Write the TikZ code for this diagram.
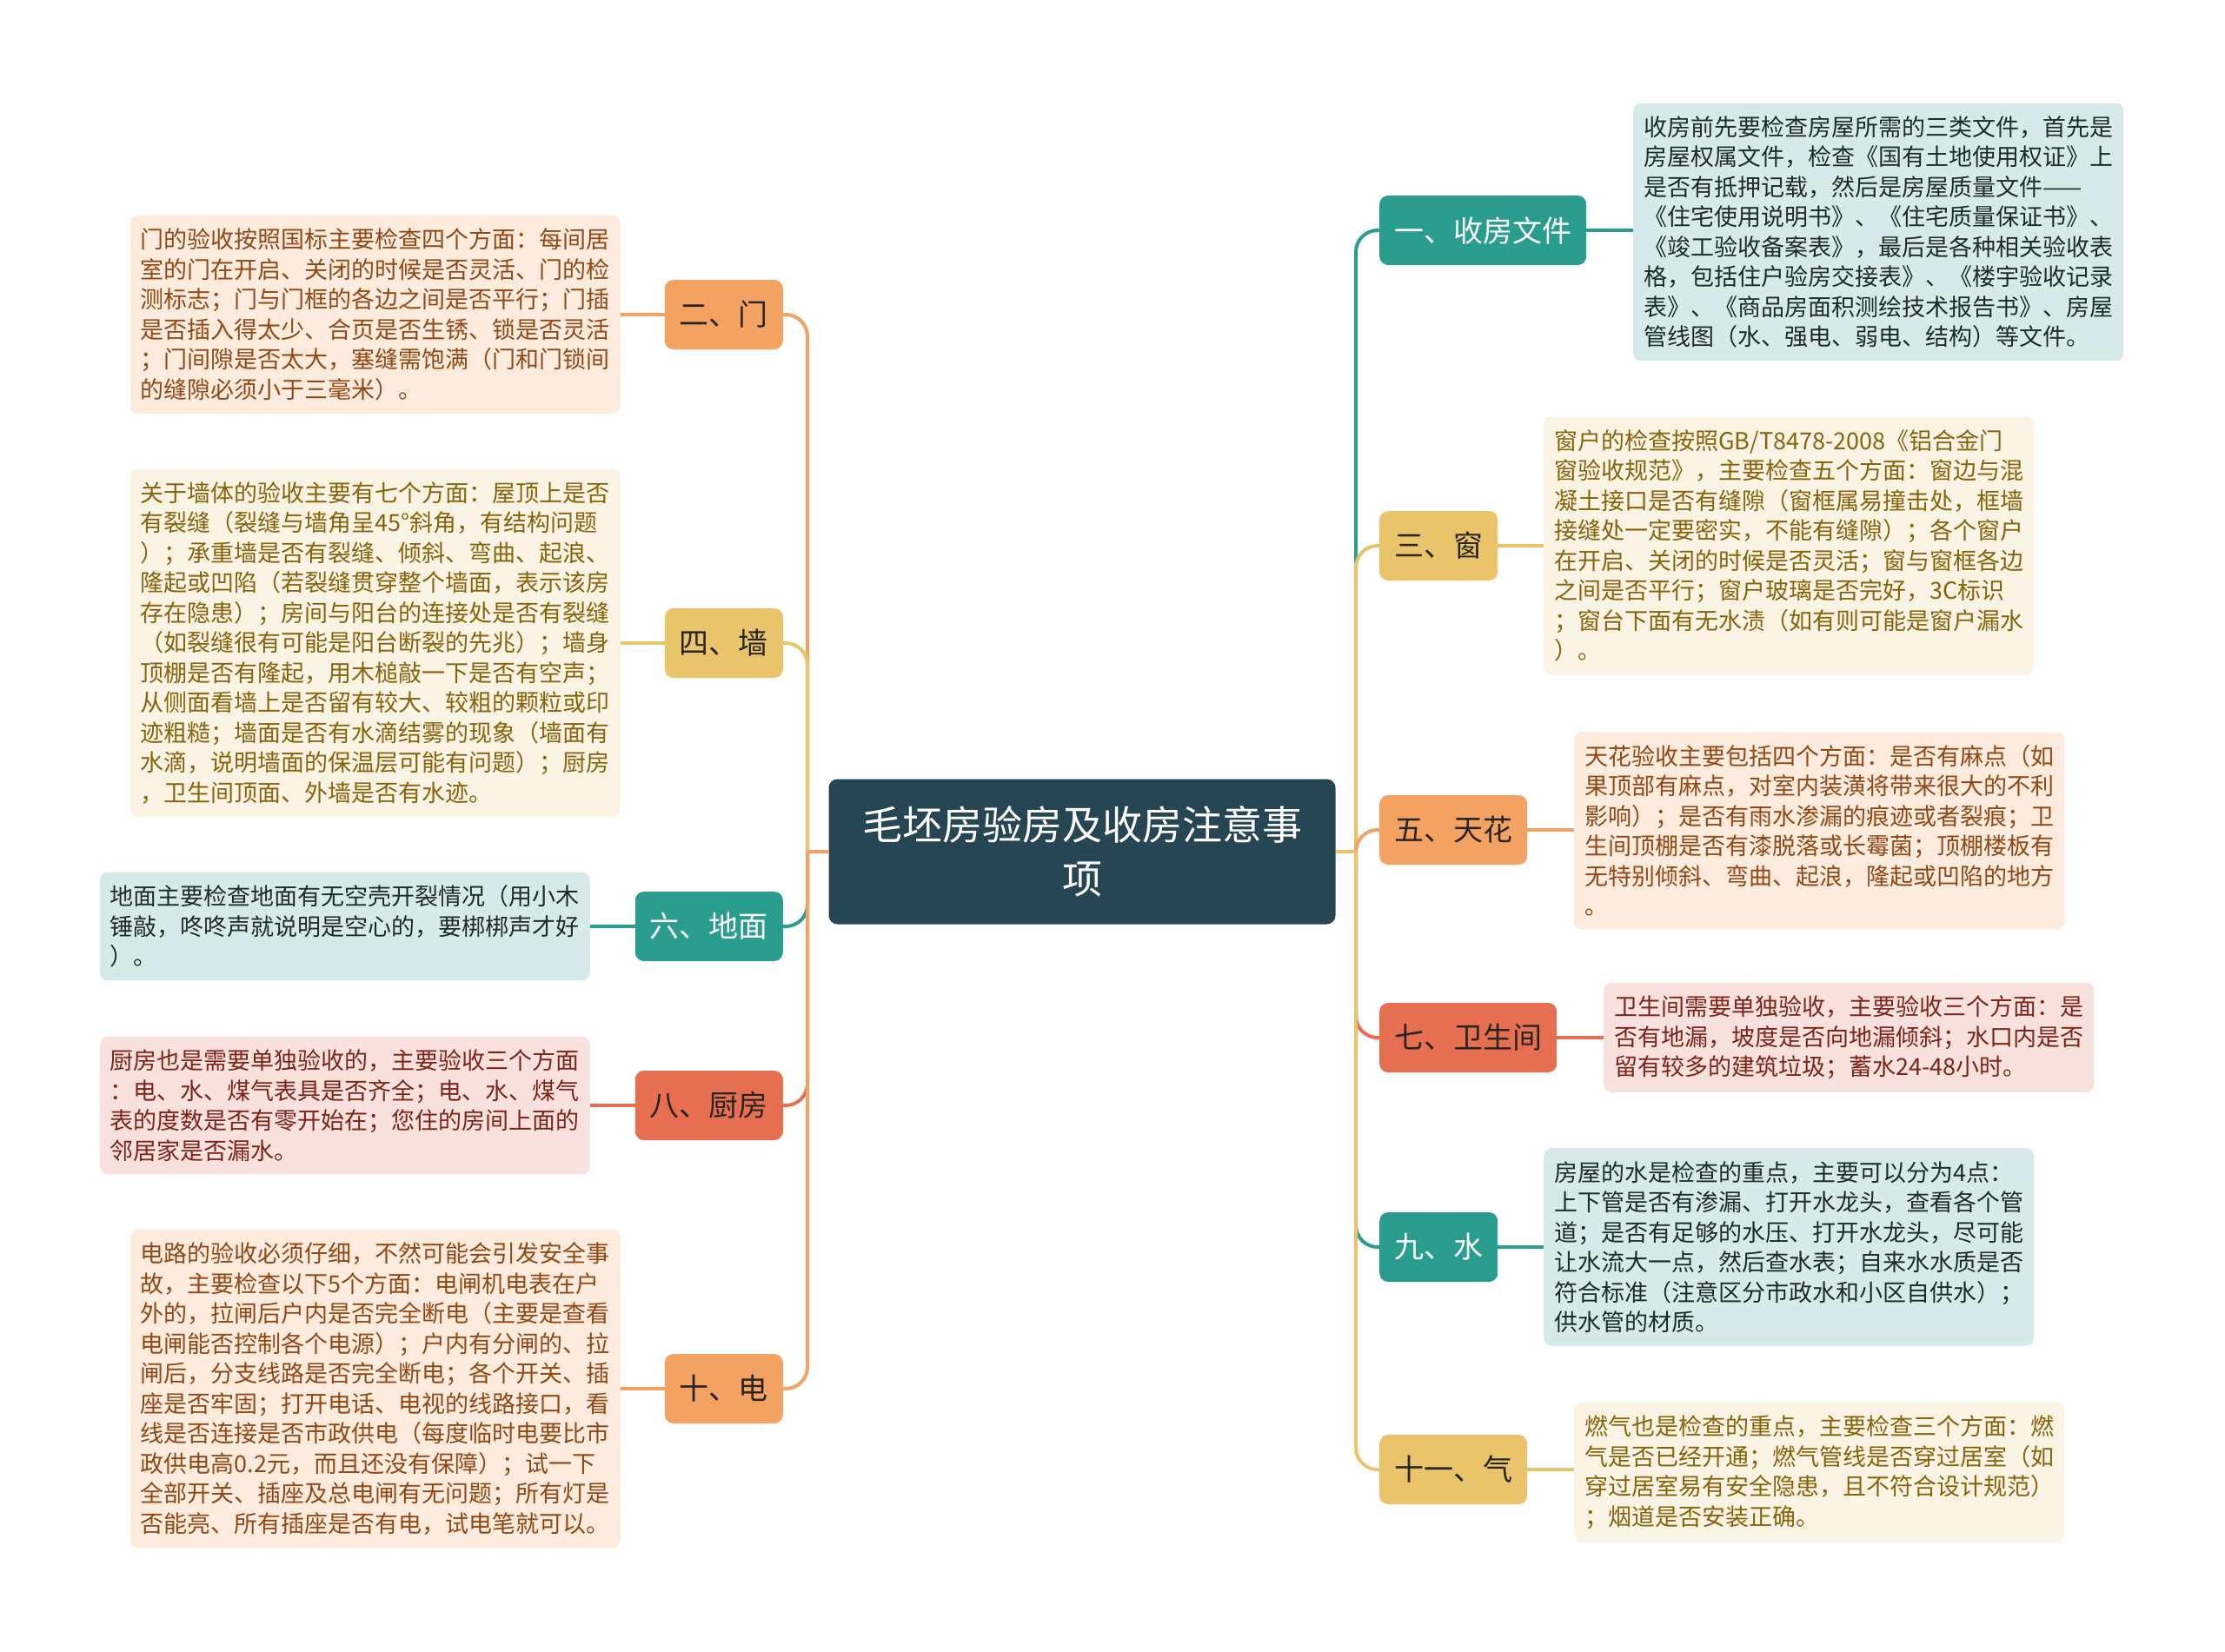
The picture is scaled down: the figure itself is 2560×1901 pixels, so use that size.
\documentclass[tikz,border=0pt]{standalone}
\usepackage{fontspec}
\setmainfont{Noto Sans CJK SC}
\usepackage{tikz}
\usetikzlibrary{positioning}

\definecolor{rootblue}{RGB}{38, 70, 83}
\definecolor{orangeC}{RGB}{244, 162, 97}
\definecolor{yellowC}{RGB}{233, 196, 106}
\definecolor{tealC}{RGB}{42, 157, 143}
\definecolor{redC}{RGB}{231, 111, 81}
\definecolor{orangeFill}{RGB}{253, 235, 222}
\definecolor{yellowFill}{RGB}{251, 243, 227}
\definecolor{tealFill}{RGB}{214, 235, 233}
\definecolor{redFill}{RGB}{249, 226, 221}
\definecolor{orangeText}{RGB}{145, 72, 20}
\definecolor{yellowText}{RGB}{135, 100, 12}
\definecolor{tealText}{RGB}{30, 43, 43}
\definecolor{redText}{RGB}{125, 35, 25}
\definecolor{darkText}{RGB}{40, 36, 32}

\begin{document}
\begin{tikzpicture}[
  x=1pt, y=-1pt,
  topic/.style={fill=rootblue, rounded corners=10pt, text=white, align=center, minimum width=583pt, minimum height=167pt, font={\fontsize{46pt}{62pt}\selectfont}},
  branch/.style={fill=#1C, rounded corners=10pt, inner xsep=17pt, inner ysep=0pt, minimum height=80pt, text=darkText, font={\fontsize{34pt}{40pt}\selectfont}},
  note/.style={fill=#1Fill, text=#1Text, rounded corners=9pt, text width=540pt, align=left, inner xsep=12pt, inner ysep=15pt, font={\fontsize{27pt}{34.5pt}\selectfont}},
  link/.style={draw=#1C, line width=4pt}
]
  \useasboundingbox (0,0) rectangle (2560,1901);

  % centre
  \node[topic] (root) at (1245,980) {毛坯房验房及收房注意事\\项};
  \coordinate (trunkL) at (929,980);
  \coordinate (trunkR) at (1560,980);

  % left side
  \node[branch=orange, anchor=east] (men) at (901,362) {二、门};
  \node[branch=yellow, anchor=east] (qiang) at (901,740) {四、墙};
  \node[branch=teal, text=white, anchor=east] (dimian) at (901,1066) {六、地面};
  \node[branch=red, anchor=east] (chufang) at (901,1272) {八、厨房};
  \node[branch=orange, anchor=east] (dian) at (901,1598) {十、电};

  \node[note=orange, anchor=east] (men-note) at (714,362) {
    门的验收按照国标主要检查四个方面：每间居\\室的门在开启、关闭的时候是否灵活、门的检\\测标志；门与门框的各边之间是否平行；门插\\是否插入得太少、合页是否生锈、锁是否灵活\\；门间隙是否太大，塞缝需饱满（门和门锁间\\的缝隙必须小于三毫米）。
  };
  \node[note=yellow, anchor=east] (qiang-note) at (714,740) {
    关于墙体的验收主要有七个方面：屋顶上是否\\有裂缝（裂缝与墙角呈45°斜角，有结构问题\\）；承重墙是否有裂缝、倾斜、弯曲、起浪、\\隆起或凹陷（若裂缝贯穿整个墙面，表示该房\\存在隐患）；房间与阳台的连接处是否有裂缝\\（如裂缝很有可能是阳台断裂的先兆）；墙身\\顶棚是否有隆起，用木槌敲一下是否有空声；\\从侧面看墙上是否留有较大、较粗的颗粒或印\\迹粗糙；墙面是否有水滴结雾的现象（墙面有\\水滴，说明墙面的保温层可能有问题）；厨房\\，卫生间顶面、外墙是否有水迹。
  };
  \node[note=teal, anchor=east] (dimian-note) at (679,1066) {
    地面主要检查地面有无空壳开裂情况（用小木\\锤敲，咚咚声就说明是空心的，要梆梆声才好\\）。
  };
  \node[note=red, anchor=east] (chufang-note) at (679,1272) {
    厨房也是需要单独验收的，主要验收三个方面\\：电、水、煤气表具是否齐全；电、水、煤气\\表的度数是否有零开始在；您住的房间上面的\\邻居家是否漏水。
  };
  \node[note=orange, anchor=east] (dian-note) at (714,1598) {
    电路的验收必须仔细，不然可能会引发安全事\\故，主要检查以下5个方面：电闸机电表在户\\外的，拉闸后户内是否完全断电（主要是查看\\电闸能否控制各个电源）；户内有分闸的、拉\\闸后，分支线路是否完全断电；各个开关、插\\座是否牢固；打开电话、电视的线路接口，看\\线是否连接是否市政供电（每度临时电要比市\\政供电高0.2元，而且还没有保障）；试一下\\全部开关、插座及总电闸有无问题；所有灯是\\否能亮、所有插座是否有电，试电笔就可以。
  };

  % right side
  \node[branch=teal, text=white, anchor=west] (shoufang) at (1587,265) {一、收房文件};
  \node[branch=yellow, anchor=west] (chuang) at (1587,628) {三、窗};
  \node[branch=orange, anchor=west] (tianhua) at (1587,955) {五、天花};
  \node[branch=red, anchor=west] (weisheng) at (1587,1194) {七、卫生间};
  \node[branch=teal, text=white, anchor=west] (shui) at (1587,1435) {九、水};
  \node[branch=yellow, anchor=west] (ranqi) at (1587,1691) {十一、气};

  \node[note=teal, anchor=west] (shoufang-note) at (1879,267) {
    收房前先要检查房屋所需的三类文件，首先是\\房屋权属文件，检查《国有土地使用权证》上\\是否有抵押记载，然后是房屋质量文件——\\《住宅使用说明书》、《住宅质量保证书》、\\《竣工验收备案表》，最后是各种相关验收表\\格，包括住户验房交接表》、《楼宇验收记录\\表》、《商品房面积测绘技术报告书》、房屋\\管线图（水、强电、弱电、结构）等文件。
  };
  \node[note=yellow, anchor=west] (chuang-note) at (1776,628) {
    窗户的检查按照GB/T8478-2008《铝合金门\\窗验收规范》，主要检查五个方面：窗边与混\\凝土接口是否有缝隙（窗框属易撞击处，框墙\\接缝处一定要密实，不能有缝隙）；各个窗户\\在开启、关闭的时候是否灵活；窗与窗框各边\\之间是否平行；窗户玻璃是否完好，3C标识\\；窗台下面有无水渍（如有则可能是窗户漏水\\）。
  };
  \node[note=orange, anchor=west] (tianhua-note) at (1811,956) {
    天花验收主要包括四个方面：是否有麻点（如\\果顶部有麻点，对室内装潢将带来很大的不利\\影响）；是否有雨水渗漏的痕迹或者裂痕；卫\\生间顶棚是否有漆脱落或长霉菌；顶棚楼板有\\无特别倾斜、弯曲、起浪，隆起或凹陷的地方\\。
  };
  \node[note=red, anchor=west] (weisheng-note) at (1845,1194) {
    卫生间需要单独验收，主要验收三个方面：是\\否有地漏，坡度是否向地漏倾斜；水口内是否\\留有较多的建筑垃圾；蓄水24-48小时。
  };
  \node[note=teal, anchor=west] (shui-note) at (1776,1435) {
    房屋的水是检查的重点，主要可以分为4点：\\上下管是否有渗漏、打开水龙头，查看各个管\\道；是否有足够的水压、打开水龙头，尽可能\\让水流大一点，然后查水表；自来水水质是否\\符合标准（注意区分市政水和小区自供水）；\\供水管的材质。
  };
  \node[note=yellow, anchor=west] (ranqi-note) at (1811,1694) {
    燃气也是检查的重点，主要检查三个方面：燃\\气是否已经开通；燃气管线是否穿过居室（如\\穿过居室易有安全隐患，且不符合设计规范）\\；烟道是否安装正确。
  };

  % connectors, top to bottom
  \draw[link=orange, rounded corners=25pt] (trunkL) |- (men.east);
  \draw[link=yellow, rounded corners=25pt] (trunkL) |- (qiang.east);
  \draw[link=teal, rounded corners=25pt] (trunkL) |- (dimian.east);
  \draw[link=red, rounded corners=25pt] (trunkL) |- (chufang.east);
  \draw[link=orange, rounded corners=25pt] (trunkL) |- (dian.east);
  \draw[link=orange] (root.west) -- (trunkL);

  \draw[link=teal, rounded corners=25pt] (trunkR) |- (shoufang.west);
  \draw[link=yellow, rounded corners=25pt] (trunkR) |- (chuang.west);
  \draw[link=orange, rounded corners=25pt] (trunkR) |- (tianhua.west);
  \draw[link=red, rounded corners=25pt] (trunkR) |- (weisheng.west);
  \draw[link=teal, rounded corners=25pt] (trunkR) |- (shui.west);
  \draw[link=yellow, rounded corners=25pt] (trunkR) |- (ranqi.west);
  \draw[link=yellow] (root.east) -- (trunkR);

  \draw[link=orange] (men.west) -- (men-note.east);
  \draw[link=yellow] (qiang.west) -- (qiang-note.east);
  \draw[link=teal] (dimian.west) -- (dimian-note.east);
  \draw[link=red] (chufang.west) -- (chufang-note.east);
  \draw[link=orange] (dian.west) -- (dian-note.east);

  \draw[link=teal] (shoufang.east) -- (shoufang-note.west |- shoufang.east);
  \draw[link=yellow] (chuang.east) -- (chuang-note.west);
  \draw[link=orange] (tianhua.east) -- (tianhua-note.west |- tianhua.east);
  \draw[link=red] (weisheng.east) -- (weisheng-note.west);
  \draw[link=teal] (shui.east) -- (shui-note.west);
  \draw[link=yellow] (ranqi.east) -- (ranqi-note.west |- ranqi.east);
\end{tikzpicture}
\end{document}
